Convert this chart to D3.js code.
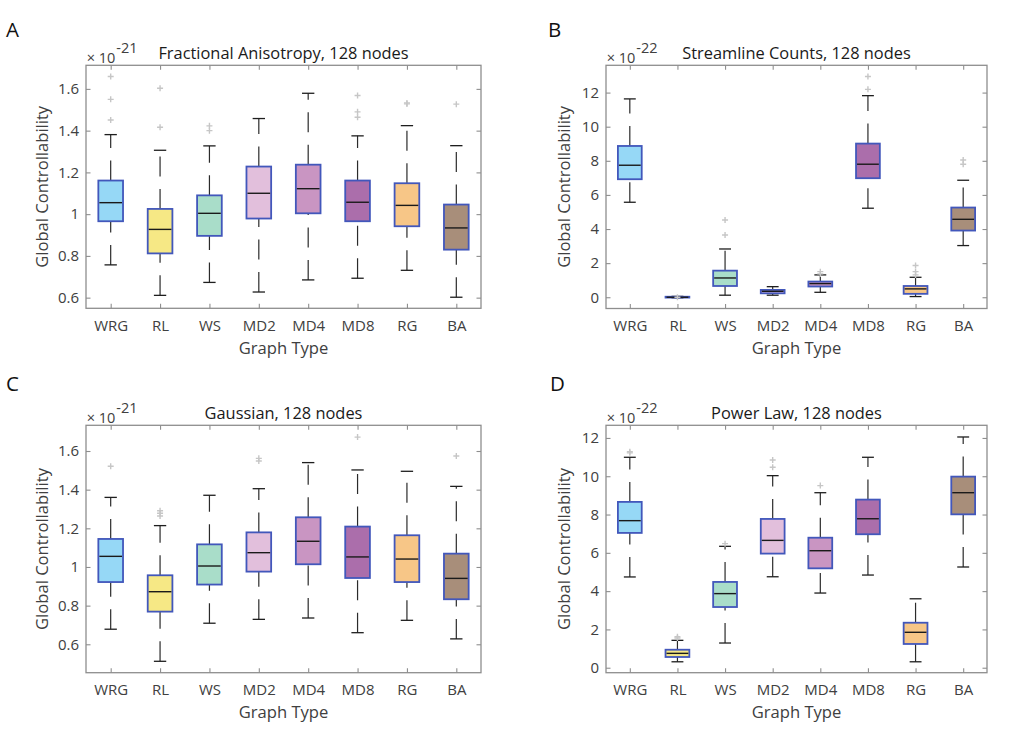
<!DOCTYPE html>
<html>
<head>
<meta charset="utf-8">
<script src="https://cdn.jsdelivr.net/npm/d3@7"></script>
<style>
  body { margin: 0; background: #fff; }
  text { font-family: "Open Sans", sans-serif; fill: #404040; }
</style>
</head>
<body>
<div id="viz"></div>
<script>
// Categories and box colours
const categories = ["WRG", "RL", "WS", "MD2", "MD4", "MD8", "RG", "BA"];
const boxColors = ["#96d8f6", "#f6e885", "#a9ddc9", "#e2bfdc", "#c995c2", "#ab6eab", "#f7c687", "#a88e7a"];

// Each row: [lower whisker, q1, median, q3, upper whisker]
const faStats = [
  [0.757, 0.966, 1.055, 1.161, 1.381],
  [0.611, 0.812, 0.927, 1.025, 1.306],
  [0.673, 0.896, 1.004, 1.090, 1.327],
  [0.627, 0.979, 1.100, 1.228, 1.458],
  [0.685, 1.004, 1.122, 1.237, 1.579],
  [0.693, 0.966, 1.057, 1.161, 1.375],
  [0.731, 0.942, 1.042, 1.148, 1.424],
  [0.602, 0.830, 0.934, 1.046, 1.328]
];
const faOutliers = [[1.659, 1.550, 1.451], [1.603, 1.416], [1.423, 1.400], [], [], [1.568, 1.490, 1.464], [1.528, 1.533], [1.527]];

const slStats = [
  [5.57, 6.92, 7.74, 8.87, 11.63],
  [-0.03, -0.02, 0.0, 0.03, 0.05],
  [0.12, 0.66, 1.13, 1.56, 2.83],
  [0.12, 0.23, 0.35, 0.43, 0.62],
  [0.29, 0.63, 0.80, 0.92, 1.31],
  [5.22, 6.98, 7.80, 9.01, 11.82],
  [0.04, 0.20, 0.49, 0.66, 1.17],
  [3.03, 3.91, 4.57, 5.26, 6.86]
];
const slOutliers = [[], [0.0], [4.53, 3.65], [], [1.50, 1.37], [12.94, 12.19], [1.86, 1.50, 1.31], [8.05, 7.80]];

const gaStats = [
  [0.678, 0.922, 1.055, 1.145, 1.360],
  [0.512, 0.769, 0.872, 0.957, 1.214],
  [0.709, 0.909, 1.005, 1.117, 1.371],
  [0.729, 0.976, 1.074, 1.179, 1.405],
  [0.736, 1.014, 1.133, 1.257, 1.540],
  [0.660, 0.943, 1.052, 1.209, 1.502],
  [0.724, 0.922, 1.041, 1.164, 1.495],
  [0.628, 0.833, 0.941, 1.069, 1.417]
];
const gaOutliers = [[1.521], [1.291, 1.278, 1.264], [], [1.562, 1.548], [], [1.672], [], [1.574]];

const plStats = [
  [4.74, 7.04, 7.68, 8.66, 10.99],
  [0.31, 0.56, 0.75, 0.94, 1.43],
  [1.29, 3.17, 3.87, 4.48, 6.34],
  [4.75, 5.96, 6.65, 7.77, 10.03],
  [3.90, 5.19, 6.11, 6.79, 9.14],
  [4.84, 6.97, 7.78, 8.78, 10.99],
  [0.31, 1.24, 1.85, 2.35, 3.60],
  [5.26, 8.01, 9.14, 9.98, 12.05]
];
const plOutliers = [[11.22, 11.28], [1.62, 1.55], [6.48], [10.85, 10.47], [9.51], [], [], []];

// Tick labels
const ticksSmall = [0.6, 0.8, 1, 1.2, 1.4, 1.6];
const ticksLarge = [0, 2, 4, 6, 8, 10, 12];

const width = 1015;
const height = 737;

const svg = d3.select("#viz")
  .append("svg")
  .attr("width", width)
  .attr("height", height)
  .style("background", "#fff");

const panels = [
  { letter: "A", lx: 6, ly: 37, title: "Fractional Anisotropy, 128 nodes", stats: faStats, outliers: faOutliers,
    x0: 86, x1: 481, y0: 65.3, y1: 308.3, domain: [0.549, 1.713], ticks: ticksSmall, exp: "-21", ylab: 38 },
  { letter: "B", lx: 548, ly: 37, title: "Streamline Counts, 128 nodes", stats: slStats, outliers: slOutliers,
    x0: 606, x1: 987, y0: 65.3, y1: 308.5, domain: [-0.66, 13.6], ticks: ticksLarge, exp: "-22", ylab: 36 },
  { letter: "C", lx: 6, ly: 391, title: "Gaussian, 128 nodes", stats: gaStats, outliers: gaOutliers,
    x0: 86, x1: 481, y0: 425.3, y1: 672.7, domain: [0.453, 1.733], ticks: ticksSmall, exp: "-21", ylab: 38 },
  { letter: "D", lx: 550, ly: 391, title: "Power Law, 128 nodes", stats: plStats, outliers: plOutliers,
    x0: 606, x1: 987, y0: 425.3, y1: 672.7, domain: [-0.26, 12.66], ticks: ticksLarge, exp: "-22", ylab: 36 }
];

panels.forEach(drawPanel);

function drawPanel(p) {
  const x = d3.scalePoint().domain(categories).range([p.x0, p.x1]).padding(0.5);
  const y = d3.scaleLinear().domain(p.domain).range([p.y1, p.y0]);
  const step = x.step();
  const boxW = step * 0.5;
  const capW = step * 0.25;

  const g = svg.append("g");

  // panel letter
  svg.append("text")
    .attr("x", p.lx).attr("y", p.ly)
    .attr("font-size", 20.5)
    .style("fill", "#111")
    .text(p.letter);

  const rows = p.stats.map((s, i) => ({ cat: categories[i], lo: s[0], q1: s[1], med: s[2], q3: s[3], hi: s[4], color: boxColors[i], out: p.outliers[i] }));

  // whiskers (dashed), drawn upward so the dash pattern starts at the lower end
  const wh = g.selectAll(".whisker").data(rows).enter();
  wh.append("line")
    .attr("x1", d => x(d.cat)).attr("x2", d => x(d.cat))
    .attr("y1", d => y(d.q3)).attr("y2", d => y(d.hi))
    .attr("stroke", "#2b2b2b").attr("stroke-width", 1.2)
    .attr("stroke-dasharray", "20,12.5");
  wh.append("line")
    .attr("x1", d => x(d.cat)).attr("x2", d => x(d.cat))
    .attr("y1", d => y(d.lo)).attr("y2", d => y(d.q1))
    .attr("stroke", "#2b2b2b").attr("stroke-width", 1.2)
    .attr("stroke-dasharray", "20,12.5");

  // caps
  ["hi", "lo"].forEach(k => {
    g.selectAll(".cap-" + k).data(rows).enter().append("line")
      .attr("x1", d => x(d.cat) - capW / 2).attr("x2", d => x(d.cat) + capW / 2)
      .attr("y1", d => y(d[k])).attr("y2", d => y(d[k]))
      .attr("stroke", "#1e1e1e").attr("stroke-width", 1.3);
  });

  // boxes
  g.selectAll(".box").data(rows).enter().append("rect")
    .attr("x", d => x(d.cat) - boxW / 2)
    .attr("width", boxW)
    .attr("y", d => y(d.q3))
    .attr("height", d => Math.max(0.5, y(d.q1) - y(d.q3)))
    .attr("fill", d => d.color)
    .attr("stroke", "#4257bb")
    .attr("stroke-width", 1.8);

  // medians
  g.selectAll(".median").data(rows).enter().append("line")
    .attr("x1", d => x(d.cat) - boxW / 2 + 1).attr("x2", d => x(d.cat) + boxW / 2 - 1)
    .attr("y1", d => y(d.med)).attr("y2", d => y(d.med))
    .attr("stroke", "#1a1a1a").attr("stroke-width", 1.4);

  // outliers as gray plus signs
  const pts = rows.flatMap(d => d.out.map(v => ({ cat: d.cat, v })));
  g.selectAll(".outlier").data(pts).enter().append("path")
    .attr("d", d => {
      const cx = x(d.cat), cy = y(d.v), r = 3;
      return `M${cx - r},${cy}H${cx + r}M${cx},${cy - r}V${cy + r}`;
    })
    .attr("stroke", "#c6c6c6").attr("stroke-width", 1.4).attr("fill", "none");

  // axes (ticks inward on all sides)
  const tickLen = 4.5;
  const fmt = d3.format("~g");

  const bottom = svg.append("g")
    .attr("transform", `translate(0,${p.y1})`)
    .call(d3.axisBottom(x).tickSizeInner(-tickLen).tickSizeOuter(0).tickPadding(12));
  const top = svg.append("g")
    .attr("transform", `translate(0,${p.y0})`)
    .call(d3.axisTop(x).tickSizeInner(-tickLen).tickSizeOuter(0).tickFormat(""));
  const left = svg.append("g")
    .attr("transform", `translate(${p.x0},0)`)
    .call(d3.axisLeft(y).tickValues(p.ticks).tickFormat(fmt).tickSizeInner(-tickLen).tickSizeOuter(0).tickPadding(7));
  const right = svg.append("g")
    .attr("transform", `translate(${p.x1},0)`)
    .call(d3.axisRight(y).tickValues(p.ticks).tickSizeInner(-tickLen).tickSizeOuter(0).tickFormat(""));

  [bottom, top, left, right].forEach(a => {
    a.select(".domain").remove();
    a.selectAll(".tick line").attr("stroke", "#8e8e8e").attr("stroke-width", 1.1);
    a.selectAll(".tick text")
      .attr("font-size", 15)
      .attr("font-family", "Open Sans, sans-serif")
      .style("fill", "#404040");
  });

  // frame
  svg.append("rect")
    .attr("x", p.x0).attr("y", p.y0)
    .attr("width", p.x1 - p.x0).attr("height", p.y1 - p.y0)
    .attr("fill", "none")
    .attr("stroke", "#8e8e8e")
    .attr("stroke-width", 1.3);

  // title
  svg.append("text")
    .attr("x", (p.x0 + p.x1) / 2).attr("y", p.y0 - 6)
    .attr("text-anchor", "middle")
    .attr("font-size", 16.4)
    .style("fill", "#1a1a1a")
    .text(p.title);

  // exponent label: "x10" with a superscript
  const ex = svg.append("text")
    .attr("x", p.x0 + 0.7).attr("y", p.y0 - 2.6)
    .style("font-size", "14.5px");
  ex.append("tspan").text("\u00d7 10");
  ex.append("tspan").attr("dx", 1).attr("dy", -9.4).text(p.exp);

  // axis labels
  svg.append("text")
    .attr("x", (p.x0 + p.x1) / 2).attr("y", p.y1 + 45.5)
    .attr("text-anchor", "middle")
    .attr("font-size", 16.6)
    .text("Graph Type");

  svg.append("text")
    .attr("transform", `translate(${p.x0 - p.ylab},${(p.y0 + p.y1) / 2}) rotate(-90)`)
    .attr("text-anchor", "middle")
    .attr("font-size", 16.6)
    .text("Global Controllability");
}
</script>
</body>
</html>
